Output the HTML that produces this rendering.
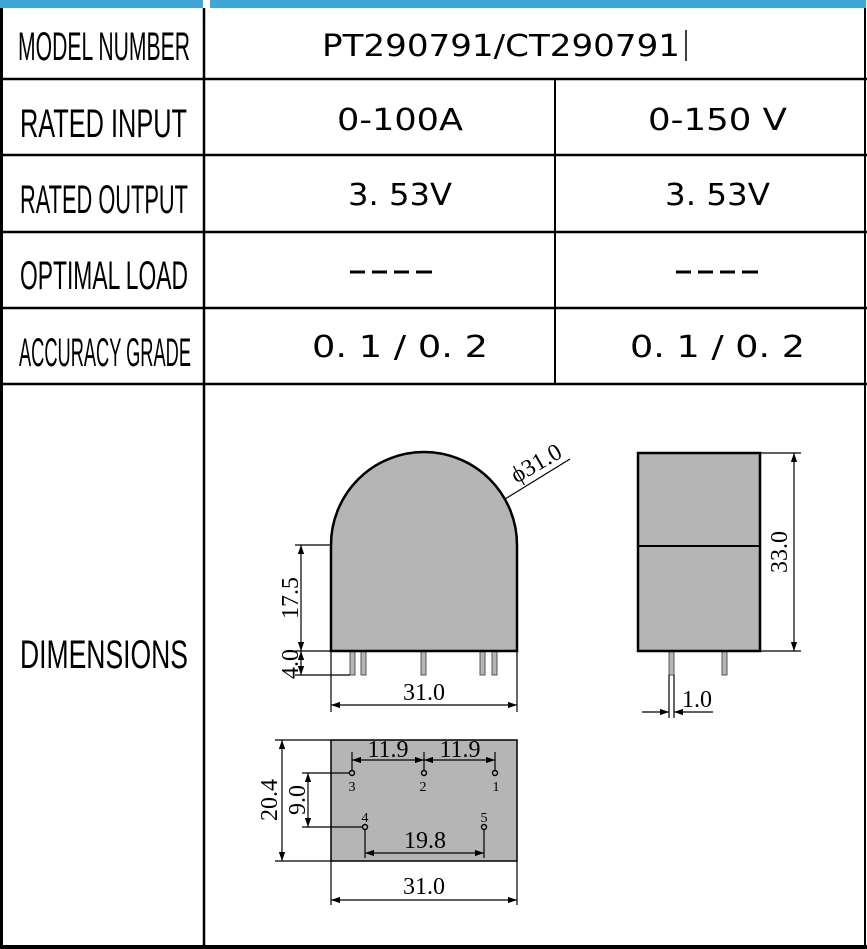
<!DOCTYPE html>
<html><head><meta charset="utf-8"><style>
html,body{margin:0;padding:0;background:#fff;width:867px;height:949px;overflow:hidden}
svg{display:block}
.lbl{font-family:"Liberation Sans Narrow","Liberation Sans",sans-serif;font-size:40px;fill:#000}
.val{font-family:"DejaVu Sans","Liberation Sans",sans-serif;font-size:30px;fill:#000}
.dim{font-family:"Liberation Serif",serif;font-size:24px;fill:#000}
.sm{font-family:"Liberation Serif",serif;font-size:14px;fill:#000}
</style></head><body>
<svg width="867" height="949" viewBox="0 0 867 949" xmlns="http://www.w3.org/2000/svg">
<defs>
<marker id="a" viewBox="0 0 10 10" refX="10" refY="5" markerWidth="9" markerHeight="9" orient="auto-start-reverse" markerUnits="userSpaceOnUse"><path d="M0,1.5 L10,5 L0,8.5z" fill="#000"/></marker>
</defs>
<rect x="0" y="0" width="203" height="8" fill="#3fa6d6"/>
<rect x="210" y="0" width="656" height="8" fill="#3fa6d6"/>
<g stroke="#000" fill="none">
<line x1="1.5" y1="8" x2="1.5" y2="949" stroke-width="3"/>
<line x1="865" y1="8" x2="865" y2="949" stroke-width="2"/>
<line x1="0" y1="947" x2="867" y2="947" stroke-width="4"/>
<line x1="204" y1="8" x2="204" y2="947" stroke-width="2.5"/>
<line x1="555" y1="79" x2="555" y2="384" stroke-width="2"/>
<line x1="0" y1="79" x2="867" y2="79" stroke-width="2.5"/>
<line x1="0" y1="155" x2="867" y2="155" stroke-width="2.5"/>
<line x1="0" y1="232" x2="867" y2="232" stroke-width="2.5"/>
<line x1="0" y1="308" x2="867" y2="308" stroke-width="2.5"/>
<line x1="0" y1="384" x2="867" y2="384" stroke-width="2.5"/>
</g>
<text class="lbl" x="18" y="60" textLength="172" lengthAdjust="spacingAndGlyphs">MODEL NUMBER</text>
<text class="lbl" x="20" y="137" textLength="167" lengthAdjust="spacingAndGlyphs">RATED INPUT</text>
<text class="lbl" x="20" y="213" textLength="168" lengthAdjust="spacingAndGlyphs">RATED OUTPUT</text>
<text class="lbl" x="20" y="289" textLength="168" lengthAdjust="spacingAndGlyphs">OPTIMAL LOAD</text>
<text class="lbl" x="19" y="366" textLength="172" lengthAdjust="spacingAndGlyphs">ACCURACY GRADE</text>
<text class="lbl" x="20" y="668" textLength="168" lengthAdjust="spacingAndGlyphs">DIMENSIONS</text>
<text class="val" x="322" y="56" textLength="358" lengthAdjust="spacingAndGlyphs">PT290791/CT290791</text>
<line x1="686" y1="30" x2="686" y2="61" stroke="#000" stroke-width="1.5"/>
<text class="val" x="337" y="130" textLength="126" lengthAdjust="spacingAndGlyphs">0-100A</text>
<text class="val" x="648" y="130" textLength="139" lengthAdjust="spacingAndGlyphs">0-150 V</text>
<text class="val" x="348" y="205" textLength="104" lengthAdjust="spacingAndGlyphs">3. 53V</text>
<text class="val" x="665" y="205" textLength="105" lengthAdjust="spacingAndGlyphs">3. 53V</text>
<g stroke="#000" stroke-width="3">
<line x1="350" y1="272" x2="365" y2="272"/><line x1="372" y1="272" x2="387" y2="272"/><line x1="394" y1="272" x2="409" y2="272"/><line x1="416" y1="272" x2="432" y2="272"/>
<line x1="676" y1="272" x2="691" y2="272"/><line x1="698" y1="272" x2="713" y2="272"/><line x1="720" y1="272" x2="735" y2="272"/><line x1="742" y1="272" x2="758" y2="272"/>
</g>
<text class="val" x="312" y="357" textLength="176" lengthAdjust="spacingAndGlyphs">0. 1 / 0. 2</text>
<text class="val" x="630" y="357" textLength="175" lengthAdjust="spacingAndGlyphs">0. 1 / 0. 2</text>

<g fill="#b4b5b4" stroke="#555" stroke-width="1">
<rect x="350" y="651" width="5" height="24"/><rect x="361" y="651" width="5" height="24"/><rect x="421" y="651" width="5" height="24"/><rect x="480" y="651" width="5" height="24"/><rect x="492" y="651" width="5" height="24"/>
</g>
<path d="M331,651 L331,545 A93,93 0 0 1 517,545 L517,651 Z" fill="#b4b5b4" stroke="#000" stroke-width="2.5"/>
<g stroke="#000" stroke-width="1.2" fill="none">
<line x1="295" y1="545" x2="331" y2="545"/>
<line x1="295" y1="651" x2="331" y2="651"/>
<line x1="295" y1="675" x2="350" y2="675"/>
<line x1="301" y1="545" x2="301" y2="651" marker-start="url(#a)" marker-end="url(#a)"/>
<line x1="301" y1="651" x2="301" y2="675" marker-start="url(#a)" marker-end="url(#a)"/>
<line x1="331" y1="651" x2="331" y2="712"/>
<line x1="517" y1="651" x2="517" y2="712"/>
<line x1="331" y1="705" x2="517" y2="705" marker-start="url(#a)" marker-end="url(#a)"/>
<line x1="505" y1="499" x2="570" y2="459"/>
</g>
<text class="dim" transform="translate(298,598) rotate(-90)" text-anchor="middle">17.5</text>
<text class="dim" transform="translate(298,664) rotate(-90)" text-anchor="middle">4.0</text>
<text class="dim" x="424" y="700" text-anchor="middle">31.0</text>
<text class="dim" transform="translate(540,470) rotate(-30)" text-anchor="middle">ϕ31.0</text>

<g fill="#b4b5b4" stroke="#555" stroke-width="1">
<rect x="669" y="651" width="5" height="24"/><rect x="722" y="651" width="5" height="24"/>
</g>
<rect x="638" y="453" width="122" height="198" fill="#b4b5b4" stroke="#000" stroke-width="2.5"/>
<line x1="638" y1="546" x2="760" y2="546" stroke="#000" stroke-width="2"/>
<g stroke="#000" stroke-width="1.2" fill="none">
<line x1="760" y1="453" x2="801" y2="453"/>
<line x1="760" y1="651" x2="801" y2="651"/>
<line x1="794" y1="453" x2="794" y2="651" marker-start="url(#a)" marker-end="url(#a)"/>
<line x1="669" y1="675" x2="669" y2="718"/>
<line x1="674" y1="675" x2="674" y2="718"/>
<line x1="642" y1="712" x2="669" y2="712" marker-end="url(#a)"/>
<line x1="713" y1="712" x2="674" y2="712" marker-end="url(#a)"/>
</g>
<text class="dim" transform="translate(787,552) rotate(-90)" text-anchor="middle">33.0</text>
<text class="dim" x="697" y="707" text-anchor="middle">1.0</text>

<rect x="331" y="740" width="186" height="121" fill="#b4b5b4" stroke="#000" stroke-width="1.5"/>
<g stroke="#000" stroke-width="1.4" fill="none">
<circle cx="352" cy="773" r="2.5"/><circle cx="424" cy="773" r="2.5"/><circle cx="495" cy="773" r="2.5"/>
<circle cx="365" cy="827" r="2.5"/><circle cx="484" cy="827" r="2.5"/>
</g>
<g stroke="#000" stroke-width="1.2" fill="none">
<line x1="352" y1="752" x2="352" y2="771"/><line x1="424" y1="752" x2="424" y2="771"/><line x1="495" y1="752" x2="495" y2="771"/>
<line x1="352" y1="760" x2="424" y2="760" marker-start="url(#a)" marker-end="url(#a)"/>
<line x1="424" y1="760" x2="495" y2="760" marker-start="url(#a)" marker-end="url(#a)"/>
<line x1="302" y1="773" x2="350" y2="773"/>
<line x1="302" y1="827" x2="363" y2="827"/>
<line x1="308" y1="773" x2="308" y2="827" marker-start="url(#a)" marker-end="url(#a)"/>
<line x1="275" y1="740" x2="331" y2="740"/>
<line x1="275" y1="861" x2="331" y2="861"/>
<line x1="282" y1="740" x2="282" y2="861" marker-start="url(#a)" marker-end="url(#a)"/>
<line x1="365" y1="829" x2="365" y2="858"/><line x1="484" y1="829" x2="484" y2="858"/>
<line x1="365" y1="853" x2="484" y2="853" marker-start="url(#a)" marker-end="url(#a)"/>
<line x1="331" y1="861" x2="331" y2="905"/><line x1="517" y1="861" x2="517" y2="905"/>
<line x1="331" y1="900" x2="517" y2="900" marker-start="url(#a)" marker-end="url(#a)"/>
</g>
<text class="dim" x="388" y="757" text-anchor="middle">11.9</text>
<text class="dim" x="460" y="757" text-anchor="middle">11.9</text>
<text class="sm" x="352" y="791" text-anchor="middle">3</text>
<text class="sm" x="423" y="791" text-anchor="middle">2</text>
<text class="sm" x="496" y="791" text-anchor="middle">1</text>
<text class="sm" x="365" y="822" text-anchor="middle">4</text>
<text class="sm" x="484" y="822" text-anchor="middle">5</text>
<text class="dim" x="425" y="848" text-anchor="middle">19.8</text>
<text class="dim" transform="translate(305,800) rotate(-90)" text-anchor="middle">9.0</text>
<text class="dim" transform="translate(277,800) rotate(-90)" text-anchor="middle">20.4</text>
<text class="dim" x="424" y="894" text-anchor="middle">31.0</text>
</svg>
</body></html>
